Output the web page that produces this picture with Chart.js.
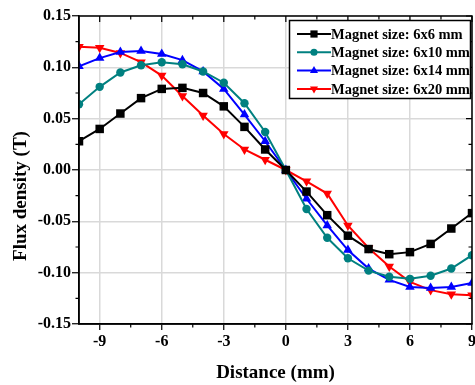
<!DOCTYPE html>
<html>
<head>
<meta charset="utf-8">
<script src="https://cdn.jsdelivr.net/npm/chart.js@4.4.1/dist/chart.umd.min.js"></script>
<style>
  html, body { margin: 0; padding: 0; background: #fff; }
  #wrap { width: 475px; height: 385px; }
</style>
</head>
<body>
<div id="wrap"><canvas id="chart"></canvas></div>
<script>
// distance along the sensor line (mm)
const distance = [-10, -9, -8, -7, -6, -5, -4, -3, -2, -1, 0, 1, 2, 3, 4, 5, 6, 7, 8, 9];

const flux6x6 = [0.028, 0.040, 0.055, 0.070, 0.079, 0.080, 0.075, 0.062, 0.042, 0.020, 0.000,
  -0.021, -0.044, -0.064, -0.077, -0.082, -0.080, -0.072, -0.057, -0.042];
const flux6x10 = [0.064, 0.081, 0.095, 0.102, 0.105, 0.103, 0.096, 0.085, 0.065, 0.037, 0.000,
  -0.038, -0.066, -0.086, -0.098, -0.104, -0.106, -0.103, -0.096, -0.083];
const flux6x14 = [0.101, 0.109, 0.115, 0.116, 0.113, 0.107, 0.096, 0.079, 0.054, 0.028, 0.000,
  -0.028, -0.054, -0.078, -0.096, -0.107, -0.114, -0.115, -0.114, -0.110];
const flux6x20 = [0.120, 0.119, 0.114, 0.105, 0.092, 0.072, 0.053, 0.035, 0.020, 0.010, 0.000,
  -0.011, -0.023, -0.054, -0.076, -0.094, -0.109, -0.117, -0.121, -0.122];

const seriesNames = ['Magnet size: 6x6 mm', 'Magnet size: 6x10 mm', 'Magnet size: 6x14 mm', 'Magnet size: 6x20 mm'];

const xTicks = [-9, -6, -3, 0, 3, 6, 9];
const xMinor = [-10.5, -7.5, -4.5, -1.5, 1.5, 4.5, 7.5];
const yTicks = [-0.15, -0.10, -0.05, 0.00, 0.05, 0.10, 0.15];
const yMinor = [-0.125, -0.075, -0.025, 0.025, 0.075, 0.125];

const FONT = "'Liberation Serif', 'Times New Roman', serif";

function pts(vals) {
  return distance.map((d, i) => ({x: d, y: vals[i]}));
}

const styles = [
  {color: '#000000', pointStyle: 'rect', radius: 6, rotation: 0},
  {color: '#008080', pointStyle: 'circle', radius: 4.2, rotation: 0},
  {color: '#0000ff', pointStyle: 'triangle', radius: 5.5, rotation: 0},
  {color: '#ff0000', pointStyle: 'triangle', radius: 5.5, rotation: 180}
];
const allSeries = [flux6x6, flux6x10, flux6x14, flux6x20];

const datasets = allSeries.map((vals, i) => ({
  label: seriesNames[i],
  data: pts(vals),
  borderColor: styles[i].color,
  backgroundColor: styles[i].color,
  borderWidth: 2,
  pointStyle: styles[i].pointStyle,
  pointRadius: styles[i].radius,
  pointRotation: styles[i].rotation,
  pointBorderWidth: 0,
  pointBackgroundColor: styles[i].color,
  tension: 0,
  clip: 0
}));

// box, mirrored ticks, minor ticks, y title
const frame = {
  id: 'frame',
  afterDatasetsDraw(chart) {
    const {ctx, chartArea: a, scales: {x, y}} = chart;
    ctx.save();
    ctx.strokeStyle = '#000';
    ctx.lineWidth = 1.5;
    ctx.strokeRect(a.left, a.top, a.right - a.left, a.bottom - a.top);
    ctx.lineWidth = 1.2;
    ctx.beginPath();
    xTicks.forEach(v => {
      const px = x.getPixelForValue(v);
      ctx.moveTo(px, a.top); ctx.lineTo(px, a.top + 6);
    });
    xMinor.forEach(v => {
      if (v < x.min) return;
      const px = x.getPixelForValue(v);
      ctx.moveTo(px, a.top); ctx.lineTo(px, a.top + 3.5);
      ctx.moveTo(px, a.bottom); ctx.lineTo(px, a.bottom + 3.5);
    });
    yTicks.forEach(v => {
      const py = y.getPixelForValue(v);
      ctx.moveTo(a.right, py); ctx.lineTo(a.right - 6, py);
    });
    yMinor.forEach(v => {
      const py = y.getPixelForValue(v);
      ctx.moveTo(a.right, py); ctx.lineTo(a.right - 3.5, py);
      ctx.moveTo(a.left, py); ctx.lineTo(a.left - 3.5, py);
    });
    ctx.stroke();

    ctx.fillStyle = '#000';
    ctx.font = 'bold 19px ' + FONT;
    ctx.textAlign = 'center';
    ctx.textBaseline = 'middle';
    ctx.translate(21, 196);
    ctx.rotate(-Math.PI / 2);
    ctx.fillText('Flux density (T)', 0, 0);
    ctx.restore();
  },
  afterDraw(chart) {
    const {ctx} = chart;
    ctx.save();
    ctx.fillStyle = '#fff';
    ctx.fillRect(289.5, 20.5, 181, 78);
    ctx.strokeStyle = '#000';
    ctx.lineWidth = 1.5;
    ctx.strokeRect(289.5, 20.5, 181, 78);
    ctx.font = 'bold 14.5px ' + FONT;
    ctx.textBaseline = 'middle';
    ctx.textAlign = 'left';
    chart.data.datasets.forEach((ds, i) => {
      const cy = 34 + i * 18.3;
      ctx.strokeStyle = ds.borderColor;
      ctx.fillStyle = ds.borderColor;
      ctx.lineWidth = 2;
      ctx.beginPath();
      ctx.moveTo(297, cy); ctx.lineTo(331, cy);
      ctx.stroke();
      Chart.helpers.drawPoint(ctx, {
        pointStyle: ds.pointStyle,
        radius: ds.pointRadius * 0.85,
        rotation: ds.pointRotation,
        borderWidth: 0
      }, 314, cy);
      ctx.fillStyle = '#000';
      ctx.fillText(ds.label, 331, cy + 1);
    });
    ctx.restore();
  }
};

new Chart(document.getElementById('chart'), {
  type: 'line',
  data: {datasets: datasets},
  options: {
    responsive: true,
    maintainAspectRatio: false,
    animation: false,
    events: [],
    layout: {autoPadding: false, padding: {top: 16, right: 3, left: 0, bottom: 0}},
    plugins: {legend: {display: false}, tooltip: {enabled: false}},
    scales: {
      x: {
        type: 'linear',
        min: -10,
        max: 9,
        afterBuildTicks: s => { s.ticks = xTicks.map(v => ({value: v})); },
        afterFit: s => { s.height = 61; s.paddingLeft = 0; s.paddingRight = 0; },
        grid: {color: '#d9d9d9', lineWidth: 1.5, tickColor: '#000', tickLength: 6, tickWidth: 1.2},
        border: {color: '#000', width: 1.5},
        ticks: {color: '#000', padding: 2, font: {family: FONT, size: 16, weight: 'bold'}},
        title: {
          display: true,
          text: 'Distance (mm)',
          color: '#000',
          padding: {top: 0, bottom: 1},
          font: {family: FONT, size: 19, weight: 'bold'}
        }
      },
      y: {
        min: -0.15,
        max: 0.15,
        afterBuildTicks: s => { s.ticks = yTicks.map(v => ({value: v})); },
        afterFit: s => { s.width = 79; },
        grid: {color: '#d9d9d9', lineWidth: 1.5, tickColor: '#000', tickLength: 7, tickWidth: 1.2},
        border: {color: '#000', width: 1.5},
        ticks: {
          color: '#000',
          padding: 1,
          font: {family: FONT, size: 16, weight: 'bold'},
          callback: v => v.toFixed(2)
        }
      }
    }
  },
  plugins: [frame]
});
</script>
</body>
</html>
